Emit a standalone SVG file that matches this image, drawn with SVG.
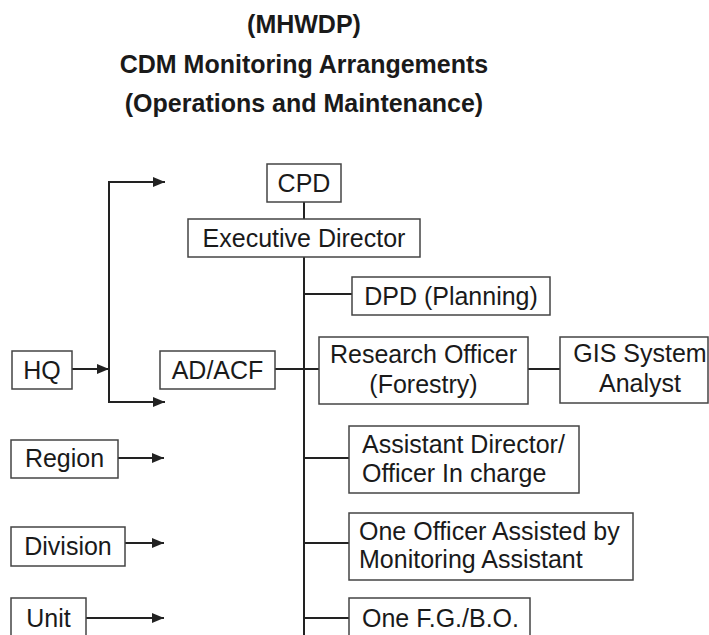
<svg xmlns="http://www.w3.org/2000/svg" width="709" height="635" viewBox="0 0 709 635">
<style>
.box{fill:#fff;stroke:#444;stroke-width:1.5}
.t{font-family:"Liberation Sans",Arial,sans-serif;font-size:25px;fill:#1a1a1a}
.c{text-anchor:middle}
.title{font-family:"Liberation Sans",Arial,sans-serif;font-size:25px;font-weight:bold;fill:#1a1a1a;text-anchor:middle}
.ln{fill:none;stroke:#222;stroke-width:2}
</style>
<defs>
<marker id="ah" viewBox="0 0 12 10" refX="12" refY="5" markerWidth="12" markerHeight="10" markerUnits="userSpaceOnUse" orient="auto">
<path d="M0,0 L12,5 L0,10 Z" fill="#222"/>
</marker>
</defs>
<g id="title">
<text class="title" x="304" y="33">(MHWDP)</text>
<text class="title" x="304" y="73">CDM Monitoring Arrangements</text>
<text class="title" x="304" y="112">(Operations and Maintenance)</text>
</g>
<g id="connectors">
<path class="ln" d="M304,202 V219"/>
<path class="ln" d="M304,257 V635"/>
<path class="ln" d="M304,294 H352"/>
<path class="ln" d="M275,369 H319"/>
<path class="ln" d="M528,369 H560"/>
<path class="ln" d="M304,458 H349"/>
<path class="ln" d="M304,543 H349"/>
<path class="ln" d="M304,618 H349"/>
<path class="ln" d="M72,369 H109" marker-end="url(#ah)"/>
<path class="ln" d="M109,182 V402"/>
<path class="ln" d="M108,182 H165" marker-end="url(#ah)"/>
<path class="ln" d="M108,402 H165" marker-end="url(#ah)"/>
<path class="ln" d="M118,458 H164" marker-end="url(#ah)"/>
<path class="ln" d="M125,543 H164" marker-end="url(#ah)"/>
<path class="ln" d="M86,618 H164" marker-end="url(#ah)"/>
</g>
<g id="cpd"><rect class="box" x="267" y="164" width="74" height="38"/><text class="t c" x="304" y="192">CPD</text></g>
<g id="exec"><rect class="box" x="188" y="219" width="232" height="38"/><text class="t c" x="304" y="247">Executive Director</text></g>
<g id="dpd"><rect class="box" x="352" y="277" width="198" height="38"/><text class="t c" x="451" y="305">DPD (Planning)</text></g>
<g id="ro"><rect class="box" x="319" y="337" width="209" height="67"/><text class="t c" x="423.5" y="363">Research Officer</text><text class="t c" x="423.5" y="393">(Forestry)</text></g>
<g id="gis"><rect class="box" x="560" y="337" width="148" height="66"/><text class="t c" x="640" y="362">GIS System</text><text class="t c" x="640" y="392">Analyst</text></g>
<g id="adacf"><rect class="box" x="160" y="351" width="115" height="38"/><text class="t c" x="217.5" y="379">AD/ACF</text></g>
<g id="hq"><rect class="box" x="12" y="351" width="60" height="38"/><text class="t c" x="42" y="379">HQ</text></g>
<g id="region"><rect class="box" x="11" y="440" width="107" height="38"/><text class="t c" x="64.5" y="467">Region</text></g>
<g id="division"><rect class="box" x="11" y="527" width="114" height="39"/><text class="t c" x="68" y="555">Division</text></g>
<g id="unit"><rect class="box" x="11" y="598" width="75" height="40"/><text class="t c" x="48.5" y="627">Unit</text></g>
<g id="ad"><rect class="box" x="349" y="426" width="230" height="67"/><text class="t" x="362" y="453">Assistant Director/</text><text class="t" x="362" y="482">Officer In charge</text></g>
<g id="oneofficer"><rect class="box" x="349" y="513" width="284" height="67"/><text class="t" x="359" y="540">One Officer Assisted by</text><text class="t" x="359" y="568">Monitoring Assistant</text></g>
<g id="fgbo"><rect class="box" x="349" y="598" width="181" height="40"/><text class="t" x="362" y="627">One F.G./B.O.</text></g>
</svg>
